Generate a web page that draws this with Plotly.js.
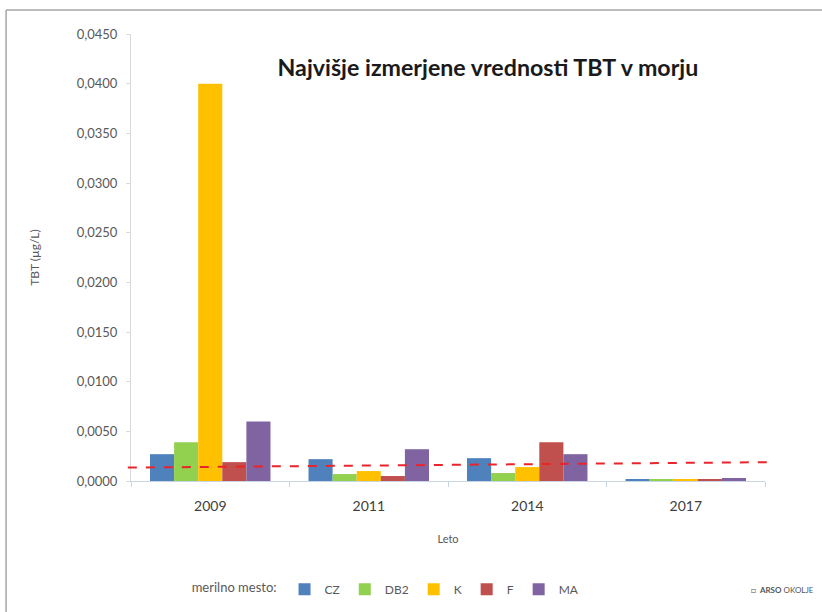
<!DOCTYPE html>
<html>
<head>
<meta charset="utf-8">
<script src="https://cdn.plot.ly/plotly-3.0.1.min.js"></script>
<style>html,body{margin:0;padding:0;background:#fff;}#chart{width:822px;height:612px;}</style>
</head>
<body>
<div id="chart"></div>
<script>
const years = ['2009', '2011', '2014', '2017'];
const seriesNames = ['CZ', 'DB2', 'K', 'F', 'MA'];
const valCZ  = [0.0027, 0.0022, 0.0023, 0.0002];
const valDB2 = [0.0039, 0.0007, 0.0008, 0.0002];
const valK   = [0.0400, 0.0010, 0.0014, 0.0002];
const valF   = [0.0019, 0.0005, 0.0039, 0.0002];
const valMA  = [0.0060, 0.0032, 0.0027, 0.0003];
const limitLine = [0.00135, 0.0019];
const yTicks = [0, 0.005, 0.01, 0.015, 0.02, 0.025, 0.03, 0.035, 0.04, 0.045];

const colors = ['#4f81bd', '#92d050', '#ffc000', '#c0504d', '#8064a2'];
const allVals = [valCZ, valDB2, valK, valF, valMA];

const traces = seriesNames.map((n, i) => ({
  type: 'bar', name: n, x: years, y: allVals[i],
  marker: {color: colors[i]}, hoverinfo: 'none'
}));

const layout = {
  width: 822, height: 612,
  margin: {l: 131, r: 57, t: 34, b: 131, autoexpand: false},
  paper_bgcolor: '#fff', plot_bgcolor: '#fff',
  separators: ',.',
  font: {family: 'Lato, sans-serif', color: '#595959'},
  barmode: 'group', bargap: 0.24, bargroupgap: 0,
  showlegend: true,
  legend: {
    orientation: 'h', xref: 'container', yref: 'container',
    x: 0.471, xanchor: 'center', y: 0.037, yanchor: 'middle',
    font: {size: 12, color: '#595959'},
    title: {text: 'merilno mesto:', side: 'left', font: {size: 13, color: '#595959'}},
    itemwidth: 30, traceorder: 'normal'
  },
  title: {
    text: '<b>Najvišje izmerjene vrednosti TBT v morju</b>',
    font: {family: 'Lato, sans-serif', size: 23.2, color: '#1a1a1a'},
    x: 0.563, xref: 'paper', xanchor: 'center', y: 0.889, yanchor: 'middle'
  },
  xaxis: {
    type: 'category', showgrid: false, zeroline: false,
    showline: true, linecolor: '#c9d5e2', linewidth: 1,
    ticks: 'outside', ticklen: 5, tickcolor: '#c9d5e2', tickson: 'boundaries',
    ticklabelstandoff: 12,
    tickfont: {size: 14, color: '#404040'},
    title: {text: 'Leto', font: {size: 11, color: '#595959'}, standoff: 22}
  },
  yaxis: {
    range: [0, 0.045], tickvals: yTicks, tickformat: '.4f',
    showgrid: false, zeroline: false,
    showline: true, linecolor: '#d9d9d9', linewidth: 1,
    ticks: 'outside', ticklen: 4, tickcolor: '#d9d9d9',
    ticklabelstandoff: 6,
    tickfont: {size: 13, color: '#595959'},
    title: {text: 'TBT (µg/L)', font: {size: 12, color: '#595959'}, standoff: 34}
  },
  shapes: [
    {type: 'line', xref: 'paper', yref: 'y', x0: -0.005, x1: 1.011,
     y0: limitLine[0], y1: limitLine[1],
     line: {color: '#e8252b', width: 2, dash: 'dash'}},
    {type: 'line', xref: 'paper', yref: 'paper', x0: -0.197, x1: 1.5, y0: 1.0537, y1: 1.0537,
     line: {color: '#a6a6a6', width: 1.5}},
    {type: 'line', xref: 'paper', yref: 'paper', x0: -0.197, x1: -0.197, y0: 1.0537, y1: -0.5,
     line: {color: '#a6a6a6', width: 1.5}}
  ],
  annotations: [
    {xref: 'paper', yref: 'paper', x: 1.08, y: -0.243, xanchor: 'right', yanchor: 'middle',
     showarrow: false, text: '□  <b>ARSO</b> OKOLJE', font: {size: 8, color: '#555'}}
  ]
};

Plotly.newPlot('chart', traces, layout, {displayModeBar: false, staticPlot: true});
</script>
</body>
</html>
